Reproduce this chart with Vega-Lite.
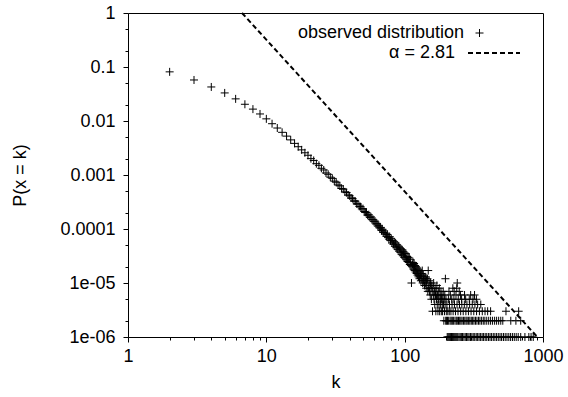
{
"$schema": "https://vega.github.io/schema/vega-lite/v6.json",
"width": 415, "height": 324,
"autosize": {"type": "none"},
"padding": {"left": 128, "top": 13, "right": 25, "bottom": 60},
"background": "white",
"view": {"stroke": "black", "strokeWidth": 1},
"config": {
 "axis": {"labelFont": "Liberation Sans", "labelFontSize": 18, "labelColor": "black", "titleFont": "Liberation Sans", "titleFontSize": 18, "titleFontWeight": "normal", "titleColor": "black", "domain": false, "grid": false},
 "legend": {"labelFont": "Liberation Sans", "labelFontSize": 18, "labelColor": "black", "padding": 0, "labelLimit": 400}
},
"datasets": {
 "fit": [{"k": 6.67, "p": 1}, {"k": 910, "p": 0.000001}]
},
"layer": [
 {
  "data": {"values": [
{"k":2,"p":0.0813},{"k":3,"p":0.0575},{"k":4,"p":0.0427},{"k":5,"p":0.0331},{"k":6,"p":0.0257},{"k":7,"p":0.0204},{"k":8,"p":0.0166},{"k":9,"p":0.0135},{"k":10,"p":0.01096},{"k":11,"p":0.00891},{"k":12,"p":0.00741},{"k":13,"p":0.00617},{"k":14,"p":0.00525},{"k":15,"p":0.00447},{"k":16,"p":0.00385},{"k":17,"p":0.00334},{"k":18,"p":0.00292},{"k":19,"p":0.00258},{"k":20,"p":0.00232},{"k":21,"p":0.00201},{"k":22,"p":0.00186},{"k":23,"p":0.00162},{"k":24,"p":0.00151},{"k":25,"p":0.00133},{"k":26,"p":0.00124},{"k":27,"p":0.00109},{"k":28,"p":0.00103},{"k":29,"p":0.000912},{"k":30,"p":0.000866},{"k":31,"p":0.00077},{"k":32,"p":0.000735},{"k":33,"p":0.000654},{"k":34,"p":0.00063},{"k":35,"p":0.000562},{"k":36,"p":0.000545},{"k":37,"p":0.000487},{"k":38,"p":0.000474},{"k":39,"p":0.000426},
{"k":40,"p":412e-6},{"k":41,"p":375e-6},{"k":42,"p":366e-6},{"k":43,"p":331e-6},{"k":44,"p":327e-6},{"k":45,"p":293e-6},{"k":46,"p":290e-6},{"k":47,"p":262e-6},{"k":48,"p":259e-6},{"k":49,"p":236e-6},{"k":50,"p":238e-6},{"k":51,"p":211e-6},{"k":52,"p":203e-6},{"k":53,"p":201e-6},{"k":54,"p":180e-6},{"k":55,"p":184e-6},{"k":56,"p":164e-6},{"k":57,"p":168e-6},{"k":58,"p":149e-6},{"k":59,"p":151e-6},{"k":60,"p":137e-6},{"k":61,"p":140e-6},{"k":62,"p":124e-6},{"k":63,"p":127e-6},{"k":64,"p":113e-6},{"k":65,"p":117e-6},{"k":66,"p":104e-6},{"k":67,"p":107e-6},{"k":68,"p":94e-6},{"k":69,"p":99e-6},{"k":70,"p":86e-6},{"k":71,"p":92e-6},{"k":72,"p":80e-6},{"k":73,"p":84e-6},{"k":74,"p":73e-6},{"k":75,"p":79e-6},{"k":76,"p":70e-6},{"k":77,"p":65e-6},{"k":78,"p":72e-6},{"k":79,"p":61e-6},{"k":80,"p":66e-6},{"k":81,"p":55e-6},{"k":82,"p":61e-6},{"k":83,"p":52e-6},{"k":84,"p":58e-6},{"k":85,"p":48e-6},{"k":86,"p":55e-6},{"k":87,"p":45e-6},{"k":88,"p":51e-6},{"k":89,"p":42e-6},{"k":90,"p":48e-6},{"k":91,"p":39e-6},{"k":92,"p":45e-6},{"k":93,"p":37e-6},{"k":94,"p":43e-6},{"k":95,"p":34e-6},{"k":96,"p":41e-6},{"k":97,"p":32e-6},{"k":98,"p":38e-6},{"k":99,"p":30e-6},{"k":100,"p":36e-6},
{"k":101,"p":29e-6},{"k":102,"p":35e-6},{"k":103,"p":27e-6},{"k":104,"p":31e-6},{"k":105,"p":25e-6},{"k":106,"p":30e-6},{"k":107,"p":24e-6},{"k":108,"p":29e-6},{"k":109,"p":22e-6},{"k":110,"p":27e-6},{"k":111,"p":21e-6},{"k":112,"p":10e-6},{"k":113,"p":20e-6},{"k":114,"p":22e-6},{"k":115,"p":24e-6},{"k":116,"p":18e-6},{"k":117,"p":23e-6},{"k":118,"p":17e-6},{"k":119,"p":21e-6},{"k":120,"p":16e-6},{"k":121,"p":20e-6},{"k":122,"p":15e-6},{"k":123,"p":19e-6},{"k":124,"p":14e-6},{"k":125,"p":18e-6},{"k":126,"p":13e-6},{"k":127,"p":17e-6},{"k":128,"p":12e-6},{"k":129,"p":16e-6},{"k":130,"p":14e-6},{"k":131,"p":11e-6},{"k":132,"p":15e-6},{"k":133,"p":12e-6},{"k":134,"p":17e-6},{"k":135,"p":10e-6},{"k":136,"p":14e-6},{"k":137,"p":11e-6},{"k":138,"p":13e-6},{"k":139,"p":9e-6},{"k":140,"p":12e-6},{"k":141,"p":10e-6},{"k":142,"p":13e-6},{"k":143,"p":8e-6},{"k":144,"p":11e-6},{"k":145,"p":9e-6},{"k":146,"p":12e-6},{"k":147,"p":7e-6},{"k":148,"p":17e-6},{"k":149,"p":8e-6},{"k":150,"p":11e-6},{"k":151,"p":7e-6},{"k":152,"p":9e-6},{"k":153,"p":6e-6},{"k":154,"p":10e-6},{"k":155,"p":8e-6},{"k":156,"p":5e-6},{"k":157,"p":9e-6},{"k":158,"p":7e-6},{"k":159,"p":3e-6},{"k":160,"p":8e-6},{"k":161,"p":6e-6},{"k":162,"p":10e-6},{"k":163,"p":5e-6},{"k":164,"p":7e-6},{"k":165,"p":4e-6},{"k":166,"p":8e-6},{"k":167,"p":6e-6},{"k":168,"p":3e-6},{"k":169,"p":7e-6},{"k":170,"p":5e-6},{"k":171,"p":9e-6},{"k":172,"p":4e-6},{"k":173,"p":6e-6},{"k":174,"p":3e-6},{"k":175,"p":7e-6},{"k":176,"p":5e-6},{"k":177,"p":4e-6},{"k":178,"p":8e-6},{"k":179,"p":3e-6},{"k":180,"p":6e-6},{"k":181,"p":5e-6},{"k":182,"p":4e-6},{"k":183,"p":7e-6},{"k":184,"p":3e-6},{"k":185,"p":5e-6},{"k":186,"p":6e-6},{"k":187,"p":4e-6},{"k":188,"p":3e-6},{"k":189,"p":5e-6},{"k":190,"p":7e-6},{"k":191,"p":4e-6},{"k":192,"p":2e-6},{"k":193,"p":5e-6},{"k":194,"p":3e-6},{"k":195,"p":6e-6},{"k":196,"p":4e-6},{"k":197,"p":12e-6},{"k":198,"p":2e-6},{"k":199,"p":5e-6},{"k":200,"p":3e-6},
{"k":203,"p":1e-6},{"k":206,"p":1e-6},{"k":209,"p":1e-6},{"k":212,"p":1e-6},{"k":215,"p":1e-6},{"k":218,"p":1e-6},{"k":222,"p":1e-6},{"k":226,"p":1e-6},{"k":230,"p":1e-6},{"k":234,"p":1e-6},{"k":238,"p":1e-6},{"k":242,"p":1e-6},{"k":247,"p":1e-6},{"k":252,"p":1e-6},{"k":257,"p":1e-6},{"k":262,"p":1e-6},{"k":268,"p":1e-6},{"k":274,"p":1e-6},{"k":280,"p":1e-6},{"k":286,"p":1e-6},{"k":292,"p":1e-6},{"k":299,"p":1e-6},{"k":306,"p":1e-6},{"k":313,"p":1e-6},{"k":321,"p":1e-6},{"k":329,"p":1e-6},{"k":337,"p":1e-6},{"k":345,"p":1e-6},{"k":354,"p":1e-6},{"k":363,"p":1e-6},{"k":372,"p":1e-6},{"k":382,"p":1e-6},{"k":392,"p":1e-6},{"k":403,"p":1e-6},{"k":414,"p":1e-6},{"k":425,"p":1e-6},{"k":437,"p":1e-6},{"k":449,"p":1e-6},{"k":462,"p":1e-6},{"k":475,"p":1e-6},{"k":489,"p":1e-6},{"k":503,"p":1e-6},{"k":518,"p":1e-6},{"k":533,"p":1e-6},{"k":549,"p":1e-6},{"k":566,"p":1e-6},{"k":583,"p":1e-6},{"k":601,"p":1e-6},{"k":620,"p":1e-6},{"k":640,"p":1e-6},{"k":662,"p":1e-6},{"k":690,"p":1e-6},{"k":740,"p":1e-6},{"k":790,"p":1e-6},{"k":820,"p":1e-6},{"k":850,"p":1e-6},
{"k":201,"p":2e-6},{"k":204,"p":2e-6},{"k":208,"p":2e-6},{"k":213,"p":2e-6},{"k":217,"p":2e-6},{"k":221,"p":2e-6},{"k":225,"p":2e-6},{"k":231,"p":2e-6},{"k":236,"p":2e-6},{"k":240,"p":2e-6},{"k":245,"p":2e-6},{"k":250,"p":2e-6},{"k":255,"p":2e-6},{"k":260,"p":2e-6},{"k":266,"p":2e-6},{"k":272,"p":2e-6},{"k":278,"p":2e-6},{"k":283,"p":2e-6},{"k":290,"p":2e-6},{"k":296,"p":2e-6},{"k":303,"p":2e-6},{"k":310,"p":2e-6},{"k":317,"p":2e-6},{"k":325,"p":2e-6},{"k":333,"p":2e-6},{"k":342,"p":2e-6},{"k":350,"p":2e-6},{"k":360,"p":2e-6},{"k":370,"p":2e-6},{"k":380,"p":2e-6},{"k":392,"p":2e-6},{"k":405,"p":2e-6},{"k":418,"p":2e-6},{"k":432,"p":2e-6},{"k":447,"p":2e-6},{"k":462,"p":2e-6},{"k":478,"p":2e-6},{"k":495,"p":2e-6},{"k":512,"p":2e-6},{"k":585,"p":2e-6},{"k":637,"p":2e-6},{"k":690,"p":2e-6},
{"k":205,"p":3e-6},{"k":210,"p":3e-6},{"k":216,"p":3e-6},{"k":224,"p":3e-6},{"k":233,"p":3e-6},{"k":243,"p":3e-6},{"k":254,"p":3e-6},{"k":265,"p":3e-6},{"k":277,"p":3e-6},{"k":289,"p":3e-6},{"k":302,"p":3e-6},{"k":316,"p":3e-6},{"k":331,"p":3e-6},{"k":347,"p":3e-6},{"k":364,"p":3e-6},{"k":381,"p":3e-6},{"k":398,"p":3e-6},{"k":418,"p":3e-6},{"k":540,"p":3e-6},{"k":667,"p":3e-6},
{"k":202,"p":4e-6},{"k":211,"p":4e-6},{"k":220,"p":4e-6},{"k":229,"p":4e-6},{"k":239,"p":4e-6},{"k":249,"p":4e-6},{"k":259,"p":4e-6},{"k":270,"p":4e-6},{"k":282,"p":4e-6},{"k":295,"p":4e-6},{"k":308,"p":4e-6},{"k":322,"p":4e-6},{"k":337,"p":4e-6},{"k":355,"p":4e-6},
{"k":207,"p":5e-6},{"k":219,"p":5e-6},{"k":227,"p":5e-6},{"k":244,"p":5e-6},{"k":258,"p":5e-6},{"k":276,"p":5e-6},{"k":293,"p":5e-6},{"k":312,"p":5e-6},{"k":330,"p":5e-6},
{"k":214,"p":6e-6},{"k":235,"p":6e-6},{"k":253,"p":6e-6},{"k":271,"p":6e-6},{"k":300,"p":6e-6},{"k":320,"p":6e-6},
{"k":209,"p":7e-6},{"k":228,"p":7e-6},{"k":248,"p":7e-6},{"k":223,"p":8e-6},{"k":238,"p":8e-6},{"k":240,"p":10e-6}
  ]},
  "mark": {"type": "point", "filled": false, "color": "black", "stroke": "black", "strokeWidth": 1, "size": 64, "opacity": 1},
  "encoding": {
   "x": {"field": "k", "type": "quantitative",
    "scale": {"type": "log", "domain": [1, 1000], "nice": false},
    "axis": {"orient": "bottom", "values": [1,10,100,1000], "format": "d", "ticks": true, "tickSize": 5, "tickColor": "black", "tickWidth": 1, "tickOpacity": 1, "domain": false,
     "labelPadding": 5, "labelFlush": false, "labelOverlap": false, "title": "k", "titlePadding": 8}},
   "y": {"field": "p", "type": "quantitative",
    "scale": {"type": "log", "domain": [0.000001, 1], "nice": false},
    "axis": {"orient": "left", "values": [0.000001,0.00001,0.0001,0.001,0.01,0.1,1], "ticks": true, "tickSize": 5, "tickColor": "black", "tickWidth": 1, "tickOpacity": 1, "domain": false,
     "labelExpr": "datum.value > 0.00005 ? format(datum.value, '~g') : (datum.value > 0.000005 ? '1e-05' : '1e-06')",
     "labelPadding": 8, "labelFlush": false, "labelOverlap": false, "title": "P(x = k)", "titlePadding": 30}},
   "shape": {"datum": "observed distribution", "type": "nominal",
    "scale": {"range": ["M-1,0L1,0M0,-1L0,1"]},
    "legend": {"orient": "none", "legendX": 342.5, "legendY": 11, "title": null, "labelAlign": "right", "labelOffset": -24.5, "symbolSize": 64, "symbolStrokeColor": "black", "symbolStrokeWidth": 1, "symbolFillColor": "transparent", "symbolOpacity": 1}}
  }
 },
 {
  "data": {"name": "fit"},
  "mark": {"type": "line", "color": "black", "strokeWidth": 2},
  "encoding": {
   "x": {"field": "k", "type": "quantitative",
    "scale": {"type": "log", "domain": [1, 1000], "nice": false},
    "axis": null},
   "y": {"field": "p", "type": "quantitative",
    "scale": {"type": "log", "domain": [0.000001, 1], "nice": false},
    "axis": null},
   "strokeDash": {"datum": "α = 2.81", "type": "nominal",
    "scale": {"range": [[5, 3]]},
    "legend": {"orient": "none", "legendX": 339, "legendY": 13, "title": null, "labelAlign": "right", "labelOffset": -66, "symbolType": "stroke", "symbolSize": 2704, "symbolStrokeColor": "black", "symbolStrokeWidth": 2, "symbolOpacity": 1}}
  }
 },
 {
  "data": {"name": "fit"},
  "mark": {"type": "line", "color": "black", "opacity": 0},
  "encoding": {
   "x": {"field": "k", "type": "quantitative",
    "scale": {"type": "log", "domain": [1, 1000], "nice": false},
    "axis": {"orient": "bottom", "values": [2,3,4,5,6,7,8,9,20,30,40,50,60,70,80,90,200,300,400,500,600,700,800,900], "ticks": true, "tickSize": 3, "tickColor": "black", "tickWidth": 1, "tickOpacity": 1, "domain": false, "labels": false, "title": null}},
   "y": {"field": "p", "type": "quantitative",
    "scale": {"type": "log", "domain": [0.000001, 1], "nice": false},
    "axis": {"orient": "left", "values": [0.000002,0.000005,0.00002,0.00005,0.0002,0.0005,0.002,0.005,0.02,0.05,0.2,0.5], "ticks": true, "tickSize": 3, "tickColor": "black", "tickWidth": 1, "tickOpacity": 1, "domain": false, "labels": false, "title": null}}
  }
 }
],
"resolve": {"axis": {"x": "independent", "y": "independent"}}
}
